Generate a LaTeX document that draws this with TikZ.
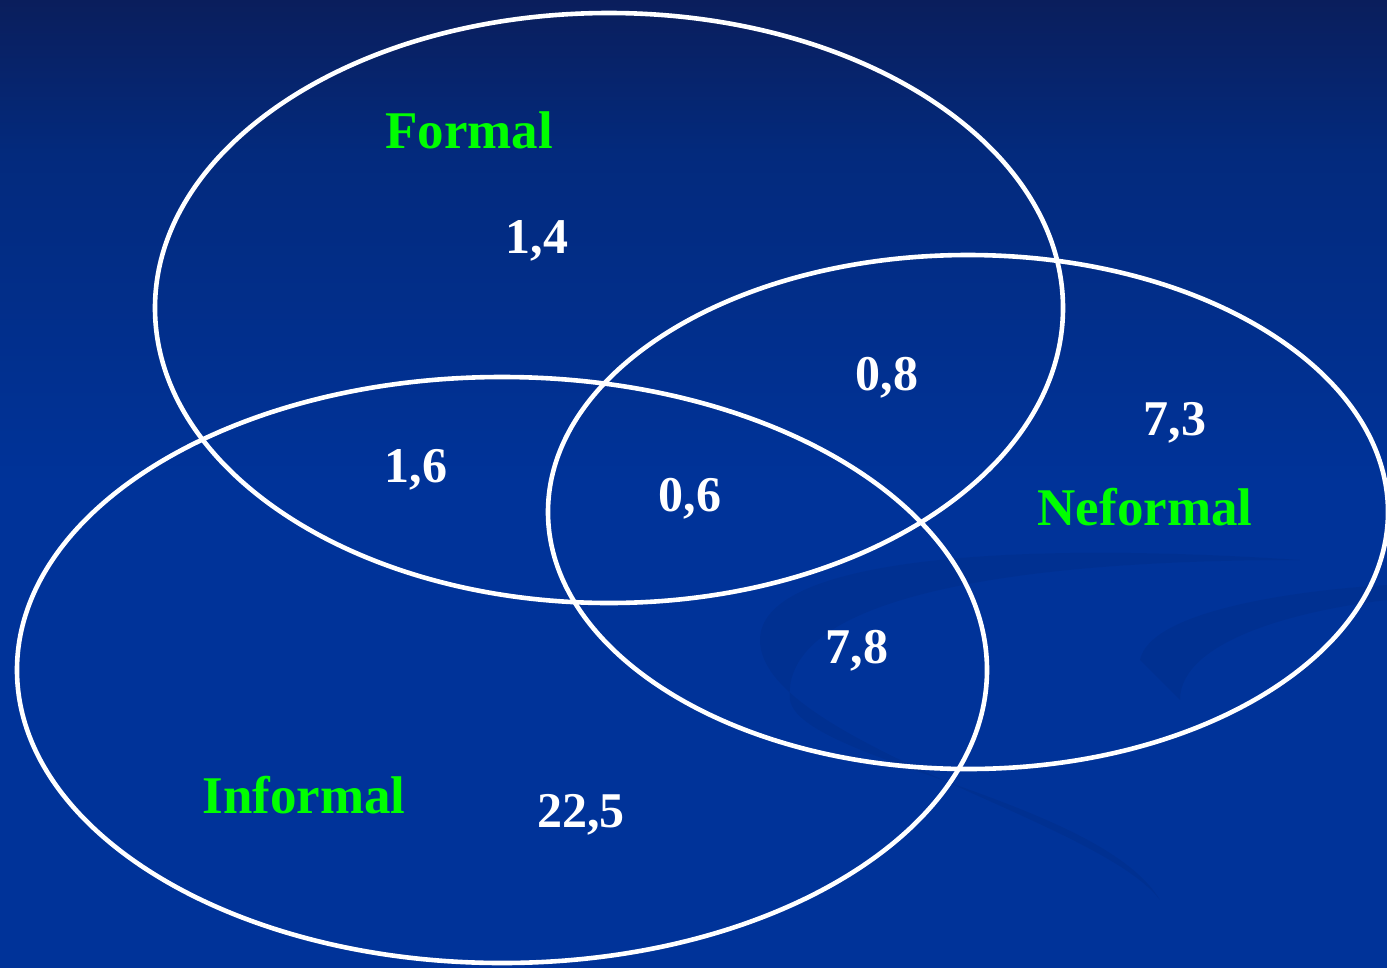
\documentclass[tikz,border=0pt]{standalone}
\usepackage{fontspec}
\setmainfont{Liberation Serif}
\definecolor{navytop}{RGB}{10,30,92}
\definecolor{navymid}{RGB}{3,42,125}
\definecolor{bgblue}{RGB}{0,51,153}
\definecolor{labgreen}{RGB}{0,255,0}
\pgfdeclareverticalshading{bgshade}{100bp}{color(0bp)=(bgblue); color(25bp)=(bgblue); color(50bp)=(bgblue); color(67bp)=(navymid); color(75bp)=(navytop); color(100bp)=(navytop)}
\tikzset{
  venn/.style={draw=white, line width=4.6pt},
  setlabel/.style={text=labgreen, font=\fontsize{53}{62}\selectfont\bfseries, anchor=base, inner sep=0pt},
  val/.style={text=white, font=\fontsize{50}{60}\selectfont\bfseries, anchor=base, inner sep=0pt},
  swirl/.style={fill=black, fill opacity=0.05, draw=none}
}
\begin{document}
\begin{tikzpicture}[x=1pt,y=-1pt]
\path[shading=bgshade] (0,0) rectangle (1387,967);
\useasboundingbox (0,0) rectangle (1387,967);
% faint background swirls
\path[swirl] (760,640) .. controls (760,560) and (1000,540) .. (1300,560) .. controls (1000,560) and (780,600) .. (790,700) .. controls (800,760) and (1100,800) .. (1160,900) .. controls (1100,820) and (760,740) .. (760,640) -- cycle;
\path[swirl] (1140,660) .. controls (1150,610) and (1300,590) .. (1387,585) -- (1387,600) .. controls (1300,610) and (1180,640) .. (1180,700) -- cycle;
% ellipses
\draw[venn] (609,308) ellipse [x radius=454, y radius=295];
\draw[venn] (968,512) ellipse [x radius=420, y radius=257];
\draw[venn] (502,670) ellipse [x radius=485, y radius=293];
% labels
\node[setlabel] (formal) at (469,148) {Formal};
\node[setlabel] (neformal) at (1145,525) {Neformal};
\node[setlabel] (informal) at (304,813) {Informal};
\node[val] (v14) at (537,253) {1,4};
\node[val] (v08) at (887,390) {0,8};
\node[val] (v73) at (1175,435) {7,3};
\node[val] (v16) at (416,482) {1,6};
\node[val] (v06) at (690,511) {0,6};
\node[val] (v78) at (857,663) {7,8};
\node[val] (v225) at (581,827) {22,5};
\end{tikzpicture}
\end{document}
